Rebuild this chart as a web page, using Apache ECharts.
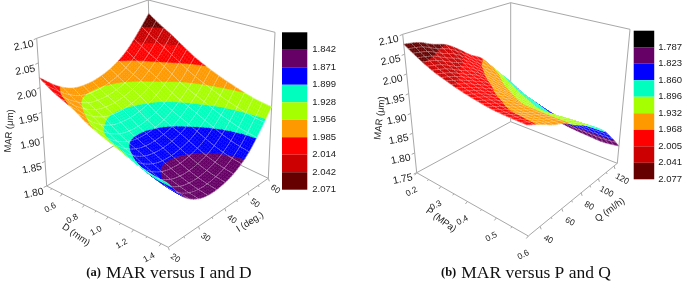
<!DOCTYPE html>
<html><head><meta charset="utf-8">
<style>html,body{margin:0;padding:0;background:#fff}#c{width:685px;height:284px}</style>
<script src="https://cdn.jsdelivr.net/npm/echarts@6/dist/echarts.min.js"></script>
</head><body><div id="c"></div>
<script>
// ---------- data ----------
const dValues = [0.45,0.55,0.65,0.75,0.85,0.95,1.05,1.15,1.25,1.35,1.45];
const iValues = [20,25,30,35,40,45,50,55,60];
const marI20 = [2.020,2.003,1.991,1.979,1.963,1.951,1.941,1.931,1.921,1.914,1.911];
const marI25 = [1.989,1.973,1.960,1.946,1.929,1.916,1.905,1.893,1.882,1.874,1.870];
const marI30 = [1.970,1.954,1.941,1.927,1.910,1.897,1.886,1.874,1.863,1.855,1.850];
const marI35 = [1.965,1.949,1.936,1.922,1.905,1.892,1.881,1.869,1.858,1.850,1.845];
const marI40 = [1.969,1.953,1.940,1.926,1.909,1.896,1.885,1.873,1.862,1.854,1.849];
const marI45 = [1.980,1.964,1.951,1.937,1.920,1.907,1.896,1.884,1.873,1.865,1.860];
const marI50 = [2.000,1.984,1.971,1.957,1.940,1.927,1.916,1.904,1.893,1.885,1.880];
const marI55 = [2.031,2.013,1.998,1.982,1.965,1.952,1.941,1.930,1.922,1.915,1.911];
const marI60 = [2.067,2.048,2.032,2.014,1.997,1.984,1.973,1.964,1.956,1.950,1.947];

const pValues = [0.2,0.25,0.3,0.35,0.4,0.45,0.5,0.55,0.6];
const qValues = [30,40.5,51,61.5,72,82.5,93,103.5,114,124.5];
const marQ1  = [2.075,2.050,2.029,2.014,2.001,1.991,1.983,1.979,1.976];
const marQ2  = [2.068,2.042,2.020,2.003,1.989,1.979,1.970,1.966,1.963];
const marQ3  = [2.052,2.026,2.004,1.988,1.974,1.964,1.955,1.951,1.948];
const marQ4  = [2.040,2.012,1.989,1.972,1.958,1.947,1.942,1.939,1.938];
const marQ5  = [2.017,1.990,1.967,1.949,1.935,1.924,1.922,1.921,1.920];
const marQ6  = [1.990,1.965,1.943,1.927,1.914,1.903,1.903,1.905,1.905];
const marQ7  = [1.970,1.943,1.920,1.903,1.889,1.878,1.881,1.883,1.885];
const marQ8  = [1.935,1.911,1.891,1.876,1.864,1.854,1.858,1.861,1.862];
const marQ9  = [1.900,1.879,1.862,1.849,1.838,1.829,1.829,1.829,1.830];
const marQ10 = [1.868,1.845,1.823,1.808,1.800,1.795,1.792,1.790,1.795];

const levelsA = ['1.842','1.871','1.899','1.928','1.956','1.985','2.014','2.042','2.071'];
const levelsB = ['1.787','1.823','1.860','1.896','1.932','1.968','2.005','2.041','2.077'];
const bandColors = ['#000000','#660066','#0000ff','#00ffbf','#a6ff00','#ff9900','#ff0000','#cc0000','#660000'];

const zTicksA = [1.80,1.85,1.90,1.95,2.00,2.05,2.10];
const zTicksB = [1.75,1.80,1.85,1.90,1.95,2.00,2.05,2.10];
const dTicks = [0.6,0.8,1.0,1.2,1.4];
const dMinor = [0.5,0.7,0.9,1.1,1.3];
const iTicks = [20,30,40,50,60];
const iMinor = [25,35,45,55];
const pTicks = [0.2,0.3,0.4,0.5,0.6];
const pMinor = [0.25,0.35,0.45,0.55];
const qTicks = [40,60,80,100,120];
const qMinor = [50,70,90,110];

// ---------- scene layout ----------
const sceneA = {
  x:[0.45,1.45], y:[20,60], z:[1.80,2.10], far:[0.2,0.3],
  L:[46.7,186], F:[168.3,247.3], R:[268.3,178.3], B:[152,123],
  LT:[36.7,38.3], FT:[165,73], RT:[275,32.3], BT:[148.3,0],
  xs:dValues, ys:iValues, rows:[marI20,marI25,marI30,marI35,marI40,marI45,marI50,marI55,marI60],
  levels:levelsA, subX:6, subY:6, meshX:4, meshY:4,
  zTicks:zTicksA, xTicks:dTicks, xMinor:dMinor, yTicks:iTicks, yMinor:iMinor,
  xFmt:1, yFmt:0,
  off:{z:[-13,7.5], x:[-12,14], y:[7,11]}, rot:{z:11, x:28, y:-35},
  tickDir:{z:[-3,1.4], x:[-2,2.5], y:[1,3]},
  titles:[['MAR (μm)',9.5,131,86],['D (mm)',76,235,-35],['I (deg.)',250,222,32]]
};
const sceneB = {
  x:[0.2,0.6], y:[30,124.5], z:[1.75,2.10], far:[0.2,0.3],
  L:[416.7,172.7], F:[528.3,236], R:[617.3,163.3], B:[510.7,121.7],
  LT:[402.7,34.3], FT:[526,64], RT:[630,29.3], BT:[510.7,2.7],
  xs:pValues, ys:qValues, rows:[marQ1,marQ2,marQ3,marQ4,marQ5,marQ6,marQ7,marQ8,marQ9,marQ10],
  levels:levelsB, subX:6, subY:6, meshX:2, meshY:3,
  zTicks:zTicksB, xTicks:pTicks, xMinor:pMinor, yTicks:qTicks, yMinor:qMinor,
  xFmt:1, yFmt:0,
  off:{z:[-14,6.5], x:[-5,19], y:[8,13]}, rot:{z:11, x:28, y:-28},
  tickDir:{z:[-3,1.4], x:[-2,2.5], y:[1,3]},
  titles:[['MAR (μm)',380,118,84],['P (MPa)',441,220,-36],['Q (ml/h)',610,210,36]]
};

function project(s, xv, yv, zv){
  const u=(xv-s.x[0])/(s.x[1]-s.x[0]), v=(yv-s.y[0])/(s.y[1]-s.y[0]), w=(zv-s.z[0])/(s.z[1]-s.z[0]);
  const wt=(uu,vv)=>1+s.far[0]*(1-uu)+s.far[1]*vv;
  const pts=[[s.L,s.LT,0,0],[s.F,s.FT,1,0],[s.R,s.RT,1,1],[s.B,s.BT,0,1]];
  let X=0,Y=0,W=0;
  pts.forEach(([lo,hi,uu,vv])=>{
    const b=(uu?u:1-u)*(vv?v:1-v)*wt(uu,vv);
    X+=b*(lo[0]*(1-w)+hi[0]*w); Y+=b*(lo[1]*(1-w)+hi[1]*w); W+=b;
  });
  return [X/W,Y/W];
}
function spline(a,b,c,d,t){
  return 0.5*((2*b)+(c-a)*t+(2*a-5*b+4*c-d)*t*t+(3*b-a-3*c+d)*t*t*t);
}
function sampler(rows){
  const ny=rows.length,nx=rows[0].length;
  const at=(j,i)=>{
    if(i<0)return 2*at(j,0)-at(j,1);
    if(i>=nx)return 2*at(j,nx-1)-at(j,nx-2);
    if(j<0)return 2*at(0,i)-at(1,i);
    if(j>=ny)return 2*at(ny-1,i)-at(ny-2,i);
    return rows[j][i];
  };
  return (fi,fj)=>{
    const i=Math.min(Math.floor(fi),nx-2), j=Math.min(Math.floor(fj),ny-2), ti=fi-i, tj=fj-j;
    const r=[-1,0,1,2].map(d=>spline(at(j+d,i-1),at(j+d,i),at(j+d,i+1),at(j+d,i+2),ti));
    return spline(r[0],r[1],r[2],r[3],tj);
  };
}
function clip(poly,level,keepAbove){
  const out=[];
  for(let k=0;k<poly.length;k++){
    const p=poly[k],q=poly[(k+1)%poly.length];
    const pin=keepAbove?p[2]>=level:p[2]<=level, qin=keepAbove?q[2]>=level:q[2]<=level;
    if(pin)out.push(p);
    if(pin!==qin){
      const t=(level-p[2])/(q[2]-p[2]);
      out.push([p[0]+(q[0]-p[0])*t,p[1]+(q[1]-p[1])*t,level]);
    }
  }
  return out;
}
function buildCells(s){
  const f=sampler(s.rows), nx=s.xs.length-1, ny=s.ys.length-1;
  const NX=nx*s.subX, NY=ny*s.subY, lv=s.levels.map(Number), cells=[];
  const vert=(a,b)=>{
    const fi=a/s.subX, fj=b/s.subY, z=f(fi,fj);
    const xv=s.x[0]+(s.x[1]-s.x[0])*a/NX, yv=s.y[0]+(s.y[1]-s.y[0])*b/NY;
    const p=project(s,xv,yv,z); return [p[0],p[1],z];
  };
  const V=[];
  for(let b=0;b<=NY;b++){const r=[];for(let a=0;a<=NX;a++)r.push(vert(a,b));V.push(r);}
  for(let b=0;b<NY;b++)for(let a=0;a<NX;a++){
    const quad=[V[b][a],V[b][a+1],V[b+1][a+1],V[b+1][a]], polys=[];
    for(let k=0;k<bandColors.length;k++){
      let poly=quad;
      if(k>0)poly=clip(poly,lv[k-1],true);
      if(poly.length&&k<bandColors.length-1)poly=clip(poly,lv[k],false);
      if(poly.length>=3)polys.push({c:bandColors[k],pts:poly.map(p=>[p[0],p[1]])});
    }
    const mesh=[];
    if(a%s.meshX===0)mesh.push([quad[0],quad[3]]);
    if((a+1)%s.meshX===0||a===NX-1)mesh.push([quad[1],quad[2]]);
    if(b%s.meshY===0)mesh.push([quad[0],quad[1]]);
    if((b+1)%s.meshY===0||b===NY-1)mesh.push([quad[3],quad[2]]);
    cells.push({key:a/NX-b/NY,polys,mesh});
  }
  cells.sort((p,q)=>p.key-q.key);
  return cells;
}
function surfaceSeries(s){
  const cells=buildCells(s);
  return {type:'custom',coordinateSystem:'none',silent:true,z:3,animation:false,progressive:0,clip:false,
    data:cells.map((c,i)=>[i]),
    renderItem:(p,api)=>{
      const c=cells[api.value(0)], ch=[];
      c.polys.forEach(pl=>ch.push({type:'polygon',shape:{points:pl.pts},style:{fill:pl.c,stroke:pl.c,lineWidth:0.4}}));
      c.mesh.forEach(m=>ch.push({type:'line',shape:{x1:m[0][0],y1:m[0][1],x2:m[1][0],y2:m[1][1]},style:{stroke:'rgba(255,255,255,0.4)',lineWidth:0.8}}));
      return {type:'group',children:ch};
    }};
}
function frameSeries(s){
  const edges=[[s.L,s.LT],[s.LT,s.BT],[s.BT,s.RT],[s.RT,s.R],[s.BT,s.B],[s.L,s.B],[s.B,s.R],[s.L,s.F],[s.F,s.R]];
  const items=[];
  edges.forEach(e=>items.push({a:e[0],b:e[1]}));
  const mid=(s.z[0]);
  const tick=(pt,dir,len)=>items.push({a:pt,b:[pt[0]+dir[0]*len,pt[1]+dir[1]*len]});
  const text=(t,x,y,rot,size)=>items.push({t,x,y,rot,size});
  s.zTicks.forEach(v=>{
    const p=project(s,s.x[0],s.y[0],v); tick(p,s.tickDir.z,1);
    text(v.toFixed(2),p[0]+s.off.z[0],p[1]+s.off.z[1],s.rot.z,10.3);
  });
  s.xTicks.forEach(v=>{
    const p=project(s,v,s.y[0],mid); tick(p,s.tickDir.x,1);
    text(v.toFixed(s.xFmt),p[0]+s.off.x[0],p[1]+s.off.x[1],s.rot.x,8.5);
  });
  s.xMinor.forEach(v=>tick(project(s,v,s.y[0],mid),s.tickDir.x,0.6));
  s.yTicks.forEach(v=>{
    const p=project(s,s.x[1],v,mid); tick(p,s.tickDir.y,1);
    text(v.toFixed(s.yFmt),p[0]+s.off.y[0],p[1]+s.off.y[1],s.rot.y,8.5);
  });
  s.yMinor.forEach(v=>tick(project(s,s.x[1],v,mid),s.tickDir.y,0.6));
  s.titles.forEach(t=>text(t[0],t[1],t[2],t[3],9.5));
  return {type:'custom',coordinateSystem:'none',silent:true,z:1,animation:false,clip:false,
    data:items.map((c,i)=>[i]),
    renderItem:(p,api)=>{
      const it=items[api.value(0)];
      if(it.t!==undefined)return {type:'text',x:it.x,y:it.y,rotation:it.rot*Math.PI/180,
        style:{text:it.t,x:0,y:0,align:'center',verticalAlign:'middle',fill:'#1a1a1a',font:it.size+'px "Liberation Sans"'}};
      return {type:'line',shape:{x1:it.a[0],y1:it.a[1],x2:it.b[0],y2:it.b[1]},style:{stroke:'#a8a8a8',lineWidth:1}};
    }};
}
const barData=bandColors.map((c,i)=>[i]);
function barSeries(gridIndex){
  return {type:'custom',xAxisIndex:gridIndex,yAxisIndex:gridIndex,silent:true,animation:false,clip:false,z:2,
    data:barData,encode:{y:0},
    renderItem:(p,api)=>{
      const k=api.value(0), a=api.coord([0,k]), b=api.coord([1,k+1]);
      return {type:'rect',shape:{x:Math.min(a[0],b[0]),y:a[1],width:Math.abs(b[0]-a[0]),height:b[1]-a[1]},
        style:{fill:bandColors[k],stroke:bandColors[k],lineWidth:0}};
    }};
}
function barY(gridIndex,labels,margin){
  return {type:'value',gridIndex,min:0,max:9,interval:1,inverse:true,position:'right',
    axisLine:{show:false},axisTick:{show:false},splitLine:{show:false},
    axisLabel:{show:true,margin,color:'#1a1a1a',fontFamily:'Liberation Sans',fontSize:9.5,
      showMinLabel:false,showMaxLabel:true,formatter:v=>v>0?labels[v-1]:''}};
}
const titleRich={b:{fontFamily:'Liberation Serif',fontWeight:'bold',fontSize:12.5,color:'#111',padding:[0,5,0,0]},
  m:{fontFamily:'Liberation Serif',fontWeight:'normal',fontSize:17.5,color:'#111'}};
const chart=echarts.init(document.getElementById('c'),null,{renderer:'canvas'});
chart.setOption({
  backgroundColor:'#fff',animation:false,
  title:[
    {text:'{b|(a)}{m|MAR versus I and D}',left:169,top:264,textAlign:'center',padding:0,textStyle:{fontWeight:'normal',rich:titleRich}},
    {text:'{b|(b)}{m|MAR versus P and Q}',left:526,top:264,textAlign:'center',padding:0,textStyle:{fontWeight:'normal',rich:titleRich}}
  ],
  grid:[
    {left:282,top:32.3,width:25.3,height:157.4,containLabel:false},
    {left:633.7,top:30.7,width:24,height:148.6,containLabel:false}
  ],
  xAxis:[
    {type:'value',gridIndex:0,min:0,max:1,show:false},
    {type:'value',gridIndex:1,min:0,max:1,show:false}
  ],
  yAxis:[barY(0,levelsA,5),barY(1,levelsB,4)],
  series:[frameSeries(sceneA),surfaceSeries(sceneA),frameSeries(sceneB),surfaceSeries(sceneB),barSeries(0),barSeries(1)]
});
</script></body></html>
